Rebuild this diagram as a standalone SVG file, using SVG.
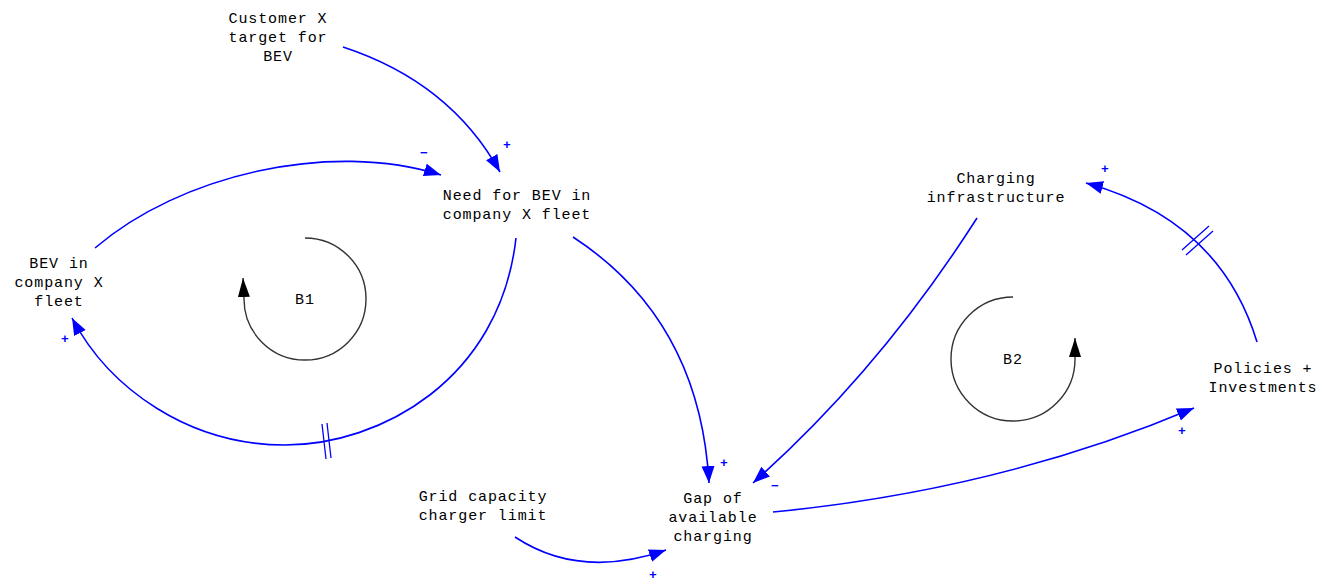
<svg xmlns="http://www.w3.org/2000/svg" width="1329" height="581" viewBox="0 0 1329 581">
<style>
.t{font-family:"Liberation Mono","Courier New",monospace;font-size:15px;fill:#000;text-anchor:middle;letter-spacing:0.9px}
.l{fill:none;stroke:#0000ff;stroke-width:1.6}
.d{fill:none;stroke:#0000ff;stroke-width:1.3}
.s{font-family:"Liberation Mono",monospace;font-size:13px;font-weight:bold;fill:#0000ff;text-anchor:middle}
.loop{fill:none;stroke:#333;stroke-width:1.4}
</style>
<defs>
<marker id="ab" markerUnits="userSpaceOnUse" markerWidth="20" markerHeight="14" refX="17" refY="6.5" orient="auto"><path d="M0,0 L17,6.5 L0,13 Z" fill="#0000ff"/></marker>
<marker id="ak" markerUnits="userSpaceOnUse" markerWidth="20" markerHeight="14" refX="19" refY="6" orient="auto"><path d="M0,0 L19,6 L0,12 Z" fill="#000"/></marker>
</defs>
<g id="connectors">
<path class="l" d="M343,47 Q450,82 500,172" marker-end="url(#ab)"/>
<path class="l" d="M95,248 C180,175 330,140 441,175" marker-end="url(#ab)"/>
<path class="l" d="M516,238 C500,380 380,445 285,445 C190,445 110,390 72,318" marker-end="url(#ab)"/>
<path class="l" d="M573,237 Q700,320 709,483" marker-end="url(#ab)"/>
<path class="l" d="M977,218 Q880,370 753,483" marker-end="url(#ab)"/>
<path class="l" d="M773,512 Q1000,490 1194,408" marker-end="url(#ab)"/>
<path class="l" d="M1257,342 Q1220,220 1086,183" marker-end="url(#ab)"/>
<path class="l" d="M515,537 Q580,580 666,550" marker-end="url(#ab)"/>
<path class="d" d="M322,424 L326,459 M327,423 L331,458"/>
<path class="d" d="M1182,250 L1209,226 M1186,255 L1213,231"/>
<text class="s" x="507" y="149">+</text>
<text class="s" x="424" y="157">−</text>
<text class="s" x="65" y="343">+</text>
<text class="s" x="724" y="467">+</text>
<text class="s" x="775" y="490">−</text>
<text class="s" x="1182" y="435">+</text>
<text class="s" x="1105" y="173">+</text>
<text class="s" x="653" y="579">+</text>
</g>
<g id="loop-b1">
<path class="loop" d="M305,238 A61,61 0 1 1 244,299 L243,278" marker-end="url(#ak)"/>
<text class="t" x="305" y="304">B1</text>
</g>
<g id="loop-b2">
<path class="loop" d="M1013,297 A62,62 0 1 0 1075,358 L1075,338" marker-end="url(#ak)"/>
<text class="t" x="1013" y="364">B2</text>
</g>
<g id="customer-target"><text class="t" x="278" y="23">Customer X</text><text class="t" x="278" y="42">target for</text><text class="t" x="278" y="61">BEV</text></g>
<g id="need-bev"><text class="t" x="517" y="200">Need for BEV in</text><text class="t" x="517" y="219">company X fleet</text></g>
<g id="bev-fleet"><text class="t" x="59" y="268">BEV in</text><text class="t" x="59" y="287">company X</text><text class="t" x="59" y="306">fleet</text></g>
<g id="charging-infra"><text class="t" x="996" y="183">Charging</text><text class="t" x="996" y="202">infrastructure</text></g>
<g id="policies"><text class="t" x="1263" y="373">Policies +</text><text class="t" x="1263" y="392">Investments</text></g>
<g id="grid-capacity"><text class="t" x="483" y="501">Grid capacity</text><text class="t" x="483" y="520">charger limit</text></g>
<g id="gap"><text class="t" x="713" y="503">Gap of</text><text class="t" x="713" y="522">available</text><text class="t" x="713" y="541">charging</text></g>
</svg>
